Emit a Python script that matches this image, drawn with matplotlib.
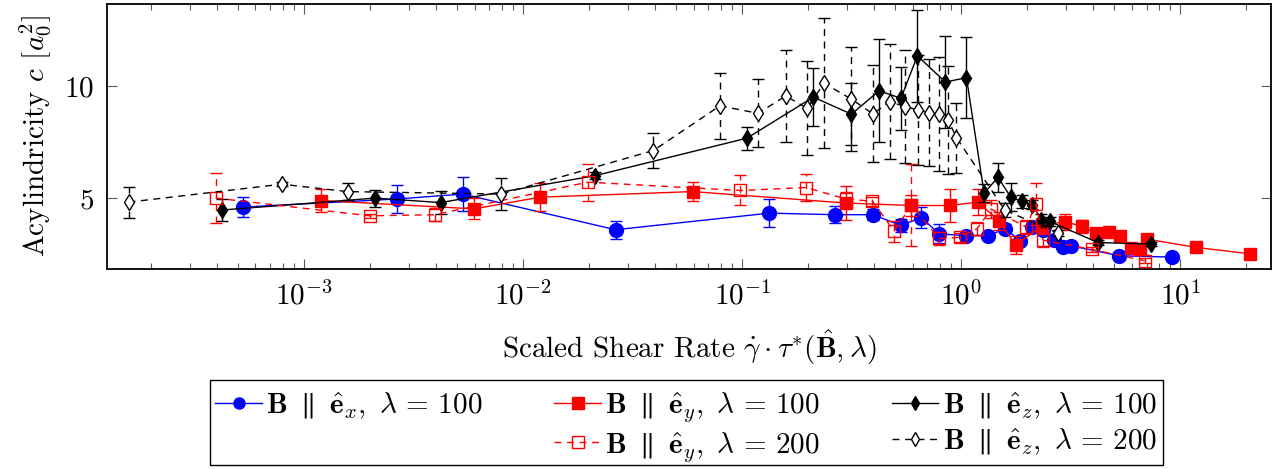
import matplotlib
matplotlib.use('Agg')
import matplotlib.pyplot as plt
from matplotlib.lines import Line2D
from matplotlib.patches import Rectangle

plt.rcParams['mathtext.fontset'] = 'cm'
plt.rcParams['font.family'] = 'serif'
plt.rcParams['font.serif'] = ['cmr10', 'DejaVu Serif']
plt.rcParams['axes.unicode_minus'] = False
plt.rcParams['axes.formatter.use_mathtext'] = True

# ---------------- data ----------------
ex100_x = [5.28e-4, 2.65e-3, 5.3e-3, 0.0264, 0.133, 0.264, 0.395, 0.53, 0.656, 0.792,
           1.055, 1.32, 1.59, 1.85, 2.11, 2.36, 2.64, 2.91, 3.15, 5.25, 9.18]
ex100_y = [4.6, 4.96, 5.18, 3.59, 4.33, 4.26, 4.26, 3.78, 4.13, 3.41,
           3.32, 3.33, 3.63, 3.11, 3.69, 3.57, 3.14, 2.83, 2.88, 2.43, 2.37]
ex100_e = [0.44, 0.63, 0.74, 0.4, 0.62, 0.38, 0.25, 0.28, 0.47, 0.42,
           0.15, 0.15, 0.2, 0.15, 0.2, 0.2, 0.15, 0.1, 0.1, 0.08, 0.08]

ey100_x = [1.2e-3, 5.97e-3, 0.0119, 0.0593, 0.297, 0.592, 0.885, 1.19, 1.48, 1.77,
           2.34, 2.96, 3.56, 4.13, 4.72, 5.32, 5.97, 6.52, 7.06, 11.8, 20.7]
ey100_y = [4.89, 4.52, 5.04, 5.29, 4.78, 4.67, 4.67, 4.82, 4.0, 2.9,
           3.77, 3.95, 3.74, 3.44, 3.5, 3.33, 2.77, 2.73, 3.17, 2.8, 2.52]
ey100_e = [0.5, 0.47, 0.63, 0.42, 0.76, 0.48, 0.72, 0.57, 0.4, 0.4,
           0.3, 0.35, 0.3, 0.15, 0.1, 0.1, 0.1, 0.1, 0.1, 0.05, 0.05]

ez100_x = [4.24e-4, 2.11e-3, 4.2e-3, 0.0213, 0.105, 0.211, 0.315, 0.421, 0.53, 0.63,
           0.846, 1.055, 1.27, 1.47, 1.68, 1.89, 2.11, 2.32, 2.53, 4.2, 7.37]
ez100_y = [4.47, 5.0, 4.8, 6.0, 7.67, 9.5, 8.74, 9.78, 9.45, 11.34,
           10.17, 10.37, 5.22, 5.93, 5.04, 4.85, 4.7, 4.03, 3.96, 3.02, 2.95]
ez100_e = [0.48, 0.38, 0.5, 0.15, 0.52, 1.3, 1.39, 2.3, 1.4, 2.06,
           2.06, 1.82, 0.4, 0.65, 0.63, 0.3, 0.2, 0.25, 0.2, 0.1, 0.1]

ey200_x = [3.95e-4, 1.99e-3, 3.96e-3, 0.0197, 0.098, 0.196, 0.297, 0.393, 0.493, 0.592,
           0.792, 0.984, 1.18, 1.37, 1.97, 2.2, 2.36, 3.95, 6.87]
ey200_y = [5.0, 4.21, 4.26, 5.71, 5.34, 5.47, 4.96, 4.86, 3.53, 4.69,
           3.2, 3.25, 3.64, 4.51, 3.72, 4.74, 3.13, 2.71, 2.21]
ey200_e = [1.11, 0.1, 0.3, 0.82, 0.67, 0.6, 0.3, 0.2, 0.47, 1.84,
           0.3, 0.2, 0.3, 0.4, 0.3, 0.95, 0.3, 0.1, 0.1]

ez200_x = [1.58e-4, 7.9e-4, 1.58e-3, 7.9e-3, 0.0393, 0.079, 0.118, 0.158, 0.198, 0.236,
           0.315, 0.395, 0.471, 0.552, 0.635, 0.71, 0.789, 0.87, 0.949, 1.58, 2.76]
ez200_y = [4.82, 5.62, 5.29, 5.18, 7.12, 9.11, 8.78, 9.55, 9.0, 10.12,
           9.41, 8.75, 9.3, 9.08, 8.93, 8.81, 8.74, 8.49, 7.7, 4.46, 3.44]
ez200_e = [0.69, 0.1, 0.37, 0.7, 0.78, 1.48, 1.52, 2.07, 2.1, 2.9,
           2.33, 2.16, 2.58, 2.5, 2.45, 2.37, 2.53, 2.4, 1.56, 0.3, 0.15]

labels = [r'$\mathbf{B}\ \parallel\ \hat{\mathbf{e}}_x,\ \lambda\,=\,100$',
          r'$\mathbf{B}\ \parallel\ \hat{\mathbf{e}}_y,\ \lambda\,=\,100$',
          r'$\mathbf{B}\ \parallel\ \hat{\mathbf{e}}_z,\ \lambda\,=\,100$',
          r'$\mathbf{B}\ \parallel\ \hat{\mathbf{e}}_y,\ \lambda\,=\,200$',
          r'$\mathbf{B}\ \parallel\ \hat{\mathbf{e}}_z,\ \lambda\,=\,200$']

# ---------------- figure ----------------
fig = plt.figure(figsize=(12.79, 4.69), dpi=100)
ax = fig.add_axes([107/1279, 1-269/469, (1271-107)/1279, 265/469])

DASH = (0, (5, 4))

def series(x, y, e, color, marker, ms, ls, mfc, z):
    c = ax.errorbar(x, y, yerr=e, color=color, marker=marker, ms=ms,
                    ls=ls, lw=1.0, mfc=mfc, mec=color, mew=1.0,
                    capsize=4.5, capthick=1.0, elinewidth=1.0, zorder=z)
    if ls != '-':
        for lc in c[2]:
            lc.set_linestyle(DASH)
    return c

series(ex100_x, ex100_y, ex100_e, 'blue', 'o', 10, '-', 'blue', 3)
series(ey100_x, ey100_y, ey100_e, 'red', 's', 9, '-', 'red', 4)
series(ez100_x, ez100_y, ez100_e, 'black', 'd', 8, '-', 'black', 5)
series(ey200_x, ey200_y, ey200_e, 'red', 's', 9, DASH, 'none', 6)
series(ez200_x, ez200_y, ez200_e, 'black', 'd', 8, DASH, 'white', 7)

FS = 21
ax.set_xscale('log')
ax.set_xlim(1.26e-4, 25.9)
ax.set_ylim(1.84, 13.65)
ax.set_yticks([5, 10])
ax.tick_params(which='both', direction='in', top=True, right=True, labelsize=FS)
ax.tick_params(which='major', length=7, width=0.8, color='0.35')
ax.tick_params(which='minor', length=4, width=0.8, color='0.35')
ax.tick_params(axis='y', pad=9)
ax.tick_params(axis='x', pad=9)
for s in ax.spines.values():
    s.set_linewidth(1.3)

ax.set_xlabel(r'Scaled Shear Rate $\dot{\gamma}\cdot\tau^{*}(\hat{\mathbf{B}},\lambda)$', fontsize=FS, labelpad=12)
ax.set_ylabel(r'Acylindricity $c$ $[a_0^2]$', fontsize=FS, labelpad=8)

# legend
h_ex100 = Line2D([], [], color='blue', marker='o', ms=8, lw=1)
h_ey100 = Line2D([], [], color='red', marker='s', ms=8, lw=1)
h_ez100 = Line2D([], [], color='black', marker='d', ms=7, lw=1)
h_ey200 = Line2D([], [], color='red', marker='s', ms=8, lw=1, ls=DASH, mfc='none')
h_ez200 = Line2D([], [], color='black', marker='d', ms=7, lw=1, ls=DASH, mfc='white')
h_empty = Line2D([], [], color='none', lw=0)
handles = [h_ex100, h_empty, h_ey100, h_ey200, h_ez100, h_ez200]
lbls = [labels[0], '', labels[1], labels[3], labels[2], labels[4]]
leg = fig.legend(handles, lbls, ncol=3, loc='upper center',
                 bbox_to_anchor=(0.5365, 1-387/469), bbox_transform=fig.transFigure,
                 borderaxespad=0.0,
                 fontsize=FS, frameon=False,
                 handlelength=1.6, handletextpad=0.15,
                 columnspacing=2.45, borderpad=0.1, labelspacing=0.2)
fig.patches.append(Rectangle((210/1279, 1-465/469), 953/1279, 85/469,
                             transform=fig.transFigure, fill=False,
                             edgecolor='black', lw=1.0))

fig.savefig('out.png', dpi=100)
